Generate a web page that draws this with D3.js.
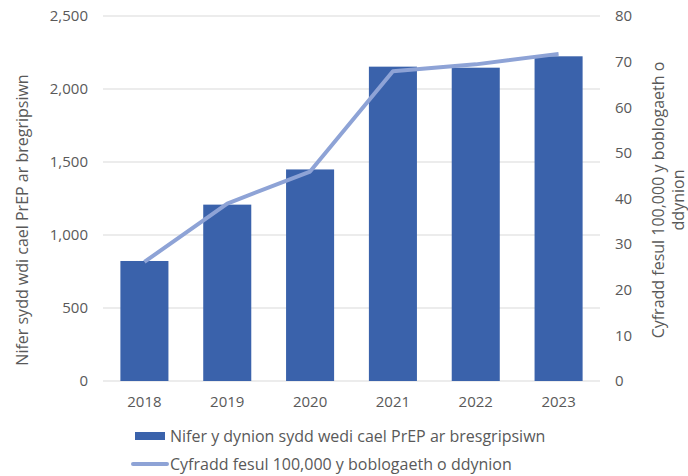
<!DOCTYPE html>
<html>
<head>
<meta charset="utf-8">
<script src="https://cdn.jsdelivr.net/npm/d3@7"></script>
<style>
  body { margin: 0; background: #fff; }
  text { font-family: "Open Sans", sans-serif; fill: #595959; }
</style>
</head>
<body>
<svg id="chart"></svg>
<script>
let years = ['2018', '2019', '2020', '2021', '2022', '2023'];
let prepCounts = [822, 1208, 1449, 2153, 2146, 2224];
let ratePer100k = [26.1, 38.9, 45.9, 67.9, 69.4, 71.7];
let leftTicks = [0, 500, 1000, 1500, 2000, 2500];
let rightTicks = [0, 10, 20, 30, 40, 50, 60, 70, 80];
let barLabel = 'Nifer y dynion sydd wedi cael PrEP ar bresgripsiwn';
let lineLabel = 'Cyfradd fesul 100,000 y boblogaeth o ddynion';
let leftTitle = 'Nifer sydd wdi cael PrEP ar bregripsiwn';
let rightTitle = ['Cyfradd fesul 100,000 y boblogaeth o', 'ddynion'];

let width = 688, height = 476;
let margin = {top: 16, right: 88, bottom: 95, left: 103};

let svg = d3.select('#chart').attr('width', width).attr('height', height);

let x = d3.scaleBand().domain(years)
  .range([margin.left, width - margin.right]).paddingInner(0.42).paddingOuter(0.21);
let yL = d3.scaleLinear().domain([0, 2500]).range([height - margin.bottom, margin.top]);
let yR = d3.scaleLinear().domain([0, 80]).range([height - margin.bottom, margin.top]);

// gridlines
svg.append('g').selectAll('line').data(leftTicks).join('line')
  .attr('x1', margin.left).attr('x2', width - margin.right)
  .attr('y1', d => yL(d)).attr('y2', d => yL(d))
  .attr('stroke', '#d9d9d9').attr('stroke-width', 1);

// left axis labels
svg.append('g').selectAll('text').data(leftTicks).join('text')
  .attr('x', margin.left - 15).attr('y', d => yL(d)).attr('dy', '0.35em')
  .attr('text-anchor', 'end').style('font-size', '15px')
  .text(d3.format(','));

// right axis labels
svg.append('g').selectAll('text').data(rightTicks).join('text')
  .attr('x', width - margin.right + 15).attr('y', d => yR(d)).attr('dy', '0.35em')
  .attr('text-anchor', 'start').style('font-size', '15px')
  .text(d => d);

// bars
svg.append('g').selectAll('rect').data(prepCounts).join('rect')
  .attr('x', (d, i) => x(years[i])).attr('width', x.bandwidth())
  .attr('y', d => yL(d)).attr('height', d => yL(0) - yL(d))
  .attr('fill', '#3a62ab');

// line
let valueline = d3.line()
  .x((d, i) => x(years[i]) + x.bandwidth() / 2)
  .y(d => yR(d));
svg.append('path').datum(ratePer100k)
  .attr('d', valueline).attr('fill', 'none')
  .attr('stroke', '#8ea3d6').attr('stroke-width', 4)
  .attr('stroke-linejoin', 'round');

// x labels
svg.append('g').selectAll('text').data(years).join('text')
  .attr('x', d => x(d) + x.bandwidth() / 2).attr('y', height - margin.bottom + 26)
  .attr('text-anchor', 'middle').style('font-size', '15px')
  .text(d => d);

// axis titles
svg.append('text')
  .attr('transform', 'translate(28,220) rotate(-90)')
  .attr('text-anchor', 'middle').style('font-size', '16px')
  .text(leftTitle);
svg.append('g').attr('transform', 'translate(664,200) rotate(-90)')
  .selectAll('text').data(rightTitle).join('text')
  .attr('x', 0).attr('y', (d, i) => i * 20)
  .attr('text-anchor', 'middle').style('font-size', '16px')
  .text(d => d);

// legend
let legend = svg.append('g');
legend.append('rect').attr('x', 135).attr('y', 432).attr('width', 30).attr('height', 8)
  .attr('fill', '#3a62ab');
legend.append('text').attr('x', 170).attr('y', 436).attr('dy', '0.35em')
  .style('font-size', '16px').text(barLabel);
legend.append('line').attr('x1', 133).attr('x2', 167).attr('y1', 464).attr('y2', 464)
  .attr('stroke', '#8ea3d6').attr('stroke-width', 4).attr('stroke-linecap', 'round');
legend.append('text').attr('x', 170).attr('y', 464).attr('dy', '0.35em')
  .style('font-size', '16px').text(lineLabel);
</script>
</body>
</html>
